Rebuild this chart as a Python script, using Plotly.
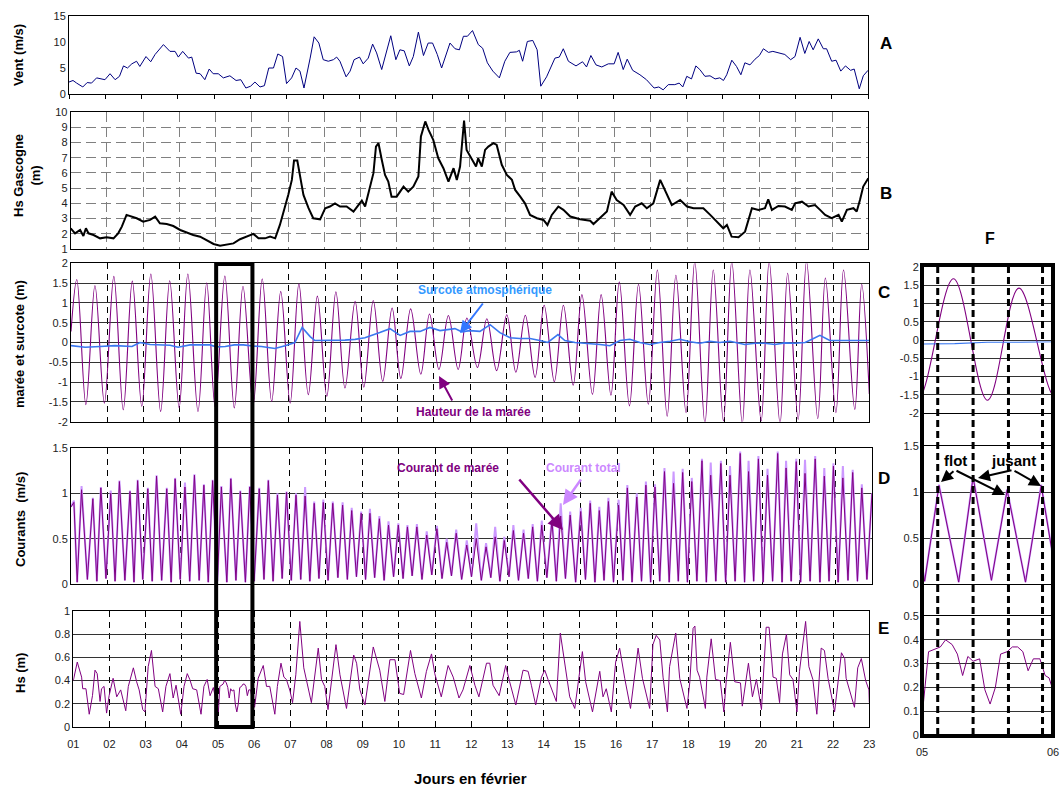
import plotly.graph_objects as go

# ------------------------------------------------------------------ data
# (day of February, value) pairs
wind_obs = [(1.00, 2.3), (1.11, 2.6), (1.21, 2.1), (1.38, 1.35), (1.50, 2.2), (1.62, 2.1), (1.76, 3.1), (1.87, 2.9),
            (1.99, 2.75), (2.13, 3.9), (2.27, 2.75), (2.39, 3.4), (2.50, 5.4), (2.61, 5.0), (2.73, 5.8), (2.86, 6.3),
            (2.95, 5.3), (3.12, 7.2), (3.25, 6.2), (3.37, 7.6), (3.60, 9.5), (3.78, 8.2), (3.92, 8.2), (4.01, 7.1),
            (4.13, 8.2), (4.29, 6.9), (4.38, 7.1), (4.50, 4.0), (4.61, 3.9), (4.74, 2.75), (4.86, 4.8), (4.97, 3.9),
            (5.11, 3.9), (5.25, 3.1), (5.43, 3.5), (5.60, 2.6), (5.73, 2.75), (5.87, 1.15), (6.00, 1.5), (6.12, 2.3),
            (6.26, 1.35), (6.38, 1.6), (6.50, 5.0), (6.63, 5.0), (6.75, 7.7), (6.88, 7.2), (6.99, 2.0), (7.13, 3.1),
            (7.25, 5.0), (7.36, 4.4), (7.47, 1.15), (7.64, 6.9), (7.75, 11.0), (7.88, 9.8), (8.00, 6.6), (8.14, 6.3),
            (8.28, 6.6), (8.37, 7.1), (8.46, 6.3), (8.63, 3.3), (8.74, 4.4), (8.85, 6.6), (9.00, 7.1), (9.10, 5.8),
            (9.24, 6.9), (9.36, 9.6), (9.47, 7.9), (9.61, 4.7), (9.75, 8.5), (9.86, 11.2), (10.00, 6.6), (10.11, 8.5),
            (10.23, 8.3), (10.37, 5.4), (10.48, 7.2), (10.62, 11.9), (10.76, 7.4), (10.89, 9.8), (11.01, 9.8),
            (11.14, 7.6), (11.26, 5.0), (11.38, 7.6), (11.49, 9.8), (11.63, 8.7), (11.75, 8.5), (11.86, 11.1),
            (11.97, 11.1), (12.11, 12.2), (12.27, 9.5), (12.39, 8.8), (12.52, 6.0), (12.67, 4.4), (12.85, 3.1),
            (13.00, 6.3), (13.14, 8.0), (13.32, 8.1), (13.40, 8.4), (13.49, 6.3), (13.62, 10.1), (13.77, 10.3),
            (13.89, 8.5), (13.99, 1.5), (14.15, 3.3), (14.38, 6.9), (14.50, 7.1), (14.61, 8.7), (14.75, 6.3),
            (14.96, 5.4), (15.14, 6.2), (15.25, 5.2), (15.37, 7.4), (15.51, 5.6), (15.67, 5.2), (15.85, 5.8),
            (16.01, 5.8), (16.12, 8.0), (16.26, 4.7), (16.37, 6.7), (16.52, 4.55), (16.72, 3.7), (16.90, 2.75),
            (17.11, 1.15), (17.24, 1.35), (17.36, 0.8), (17.50, 1.8), (17.68, 1.8), (17.80, 2.1), (17.90, 1.35),
            (18.01, 3.4), (18.14, 2.9), (18.26, 5.4), (18.37, 4.7), (18.51, 3.4), (18.65, 3.5), (18.79, 2.9),
            (18.92, 3.1), (19.02, 2.6), (19.11, 3.7), (19.25, 6.5), (19.38, 5.3), (19.50, 3.7), (19.61, 6.0),
            (19.75, 5.6), (19.89, 6.7), (20.01, 7.4), (20.12, 8.7), (20.26, 8.0), (20.38, 8.2), (20.53, 7.9),
            (20.71, 7.6), (20.87, 6.6), (20.99, 7.2), (21.13, 10.9), (21.26, 7.8), (21.38, 10.1), (21.49, 8.5),
            (21.63, 10.6), (21.77, 8.7), (21.86, 8.7), (22.00, 6.3), (22.12, 6.5), (22.25, 4.4), (22.38, 5.4),
            (22.52, 4.55), (22.62, 4.8), (22.76, 1.0), (22.87, 3.5), (23.00, 4.55)]

hs_gascogne_obs = [(1.00, 2.36), (1.12, 2.03), (1.26, 2.25), (1.35, 1.86), (1.42, 2.36), (1.49, 2.03), (1.63, 1.92),
                   (1.81, 1.70), (1.99, 1.77), (2.18, 1.70), (2.31, 2.03), (2.41, 2.47), (2.54, 3.24), (2.68, 3.13),
                   (2.82, 3.02), (3.00, 2.80), (3.19, 2.91), (3.33, 3.13), (3.46, 2.69), (3.65, 2.64), (3.83, 2.51),
                   (4.02, 2.25), (4.20, 2.07), (4.38, 1.92), (4.57, 1.81), (4.75, 1.59), (4.94, 1.33), (5.12, 1.22),
                   (5.30, 1.31), (5.49, 1.37), (5.67, 1.64), (5.86, 1.81), (6.04, 1.99), (6.18, 1.70), (6.36, 1.70),
                   (6.50, 1.81), (6.64, 1.70), (6.77, 2.58), (6.91, 3.68), (7.00, 4.55), (7.10, 5.54), (7.16, 6.81),
                   (7.25, 6.81), (7.33, 5.76), (7.42, 4.55), (7.56, 3.68), (7.69, 3.02), (7.88, 2.95), (8.02, 3.68),
                   (8.15, 3.79), (8.29, 4.00), (8.43, 3.79), (8.61, 3.79), (8.80, 3.46), (8.94, 3.89), (9.03, 4.18),
                   (9.12, 3.79), (9.26, 5.21), (9.35, 5.98), (9.42, 7.73), (9.49, 7.95), (9.58, 6.86), (9.67, 5.87),
                   (9.76, 5.43), (9.85, 4.44), (9.99, 4.44), (10.18, 5.10), (10.31, 4.77), (10.45, 5.10),
                   (10.59, 5.76), (10.66, 8.39), (10.78, 9.38), (10.87, 8.83), (11.00, 8.17), (11.14, 6.96),
                   (11.28, 6.31), (11.42, 5.43), (11.56, 6.31), (11.65, 5.54), (11.74, 6.42), (11.85, 9.44),
                   (11.92, 7.51), (12.06, 6.96), (12.18, 6.42), (12.24, 6.96), (12.34, 6.42), (12.43, 7.51),
                   (12.52, 7.73), (12.66, 7.95), (12.75, 7.84), (12.89, 6.53), (13.03, 5.87), (13.17, 5.54),
                   (13.26, 4.88), (13.40, 4.44), (13.53, 4.00), (13.67, 3.24), (13.86, 3.02), (14.04, 2.91),
                   (14.15, 2.58), (14.27, 3.24), (14.45, 3.79), (14.59, 3.57), (14.78, 3.13), (15.05, 2.95),
                   (15.33, 2.86), (15.42, 2.64), (15.60, 3.02), (15.79, 3.46), (15.92, 4.77), (16.06, 4.22),
                   (16.25, 3.89), (16.43, 3.24), (16.57, 3.79), (16.75, 4.00), (16.89, 3.68), (17.07, 4.00),
                   (17.26, 5.54), (17.40, 4.77), (17.58, 3.89), (17.81, 4.22), (18.00, 3.79), (18.18, 3.68),
                   (18.45, 3.68), (18.64, 3.24), (18.87, 2.69), (19.00, 2.36), (19.10, 2.58), (19.23, 1.81),
                   (19.42, 1.77), (19.60, 2.14), (19.79, 3.68), (19.97, 3.57), (20.15, 3.68), (20.24, 4.27),
                   (20.34, 3.57), (20.52, 3.83), (20.70, 3.79), (20.89, 3.57), (20.98, 4.00), (21.17, 4.11),
                   (21.35, 3.79), (21.53, 3.89), (21.67, 3.57), (21.81, 3.24), (21.99, 3.02), (22.18, 3.24),
                   (22.27, 2.80), (22.41, 3.57), (22.59, 3.68), (22.68, 3.46), (22.77, 4.22), (22.86, 5.10),
                   (23.00, 5.65)]

# tide: high waters, low waters and the two ends of the record (m)
tide_high = [(1.16, 1.59), (1.66, 1.44), (2.18, 1.67), (2.69, 1.55), (3.20, 1.73), (3.72, 1.56), (4.22, 1.73),
             (4.74, 1.51), (5.24, 1.68), (5.74, 1.42), (6.27, 1.61), (6.78, 1.29), (7.28, 1.48), (7.79, 1.17),
             (8.30, 1.28), (8.83, 1.04), (9.33, 1.06), (9.85, 0.87), (10.36, 0.85), (10.88, 0.72), (11.40, 0.68),
             (11.91, 0.62), (12.46, 0.60), (13.01, 0.70), (13.52, 0.69), (14.04, 0.94), (14.57, 0.94),
             (15.08, 1.21), (15.61, 1.21), (16.11, 1.53), (16.64, 1.47), (17.16, 1.83), (17.67, 1.70),
             (18.19, 2.05), (18.70, 1.83), (19.21, 2.05), (19.71, 1.83), (20.24, 2.05), (20.75, 1.75),
             (21.27, 2.05), (21.79, 1.63), (22.29, 1.83), (22.79, 1.47)]
tide_low = [(1.41, -1.57), (1.92, -1.53), (2.44, -1.70), (2.95, -1.61), (3.47, -1.74), (3.98, -1.65),
            (4.50, -1.74), (4.97, -1.62), (5.50, -1.65), (6.02, -1.58), (6.53, -1.49), (7.04, -1.53),
            (7.54, -1.32), (8.05, -1.36), (8.55, -1.15), (9.07, -1.13), (9.59, -0.98), (10.09, -0.91),
            (10.64, -0.80), (11.14, -0.68), (11.67, -0.68), (12.20, -0.63), (12.73, -0.71), (13.26, -0.75),
            (13.79, -0.88), (14.32, -0.99), (14.84, -1.08), (15.37, -1.31), (15.88, -1.33), (16.39, -1.60),
            (16.91, -1.56), (17.43, -1.86), (17.95, -1.77), (18.47, -2.05), (18.98, -1.98), (19.50, -2.05),
            (20.02, -1.98), (20.54, -2.05), (21.04, -1.94), (21.58, -1.92), (22.08, -1.77), (22.60, -1.69)]
tide_ends = [(1.00, 0.28), (23.00, -1.30)]

surge_obs = [(1.00, -0.08), (1.39, -0.12), (1.80, -0.10), (2.21, -0.08), (2.68, -0.10), (2.90, 0.00), (3.18, -0.05),
             (3.73, -0.07), (3.95, -0.12), (4.28, -0.06), (4.83, -0.06), (5.00, -0.11), (5.25, -0.10),
             (5.50, -0.06), (5.75, -0.06), (6.00, -0.09), (6.25, -0.10), (6.48, -0.12), (6.62, -0.15),
             (6.90, -0.08), (7.03, -0.05), (7.17, 0.00), (7.37, 0.38), (7.59, 0.15), (7.72, 0.05), (8.14, 0.05),
             (8.55, 0.06), (8.83, 0.08), (9.10, 0.12), (9.51, 0.25), (9.79, 0.35), (10.07, 0.18), (10.34, 0.28),
             (10.62, 0.28), (10.89, 0.38), (11.17, 0.30), (11.58, 0.35), (11.77, 0.27), (11.99, 0.30),
             (12.27, 0.28), (12.55, 0.45), (12.82, 0.25), (13.10, 0.12), (13.37, 0.10), (13.65, 0.10),
             (13.92, 0.05), (14.14, 0.00), (14.42, 0.20), (14.61, 0.05), (14.89, 0.00), (15.30, -0.02),
             (15.58, -0.05), (15.85, -0.08), (16.13, 0.05), (16.40, 0.08), (16.68, 0.00), (16.95, -0.05),
             (17.23, 0.00), (17.51, 0.03), (17.78, 0.08), (18.06, 0.02), (18.33, -0.02), (18.61, 0.03),
             (18.88, 0.00), (19.16, 0.03), (19.43, -0.03), (19.57, -0.05), (19.85, -0.02), (20.12, -0.02),
             (20.40, -0.05), (20.67, -0.01), (20.95, -0.02), (21.23, 0.00), (21.42, 0.08), (21.64, 0.18),
             (21.91, 0.05), (22.19, 0.05), (22.47, 0.06), (22.74, 0.05), (22.99, 0.05)]

# currents: (day, tidal-current peak, total-current peak) in m/s
current_peaks = [(1.08, 0.90, 0.92), (1.29, 1.04, 1.08), (1.60, 0.94, 0.95), (1.82, 1.06, 1.07), (2.09, 1.00, 1.03),
                 (2.33, 1.13, 1.14), (2.62, 1.02, 1.03), (2.83, 1.14, 1.15), (3.11, 1.05, 1.06), (3.35, 1.19, 1.20),
                 (3.63, 1.05, 1.06), (3.86, 1.16, 1.17), (4.13, 1.07, 1.12), (4.39, 1.20, 1.21), (4.65, 1.09, 1.10),
                 (4.89, 1.14, 1.15), (5.13, 1.07, 1.08), (5.39, 1.16, 1.17), (5.65, 1.02, 1.03), (5.91, 1.07, 1.08),
                 (6.17, 1.05, 1.06), (6.42, 1.14, 1.15), (6.67, 0.98, 1.00), (6.92, 1.01, 1.02), (7.18, 0.98, 1.00),
                 (7.43, 0.97, 1.07), (7.68, 0.89, 0.91), (7.93, 0.90, 0.93), (8.19, 0.89, 0.91), (8.46, 0.87, 0.90),
                 (8.71, 0.81, 0.84), (8.97, 0.78, 0.80), (9.21, 0.78, 0.83), (9.47, 0.72, 0.75), (9.72, 0.65, 0.69),
                 (9.99, 0.65, 0.67), (10.24, 0.63, 0.65), (10.50, 0.63, 0.66), (10.77, 0.54, 0.58), (11.05, 0.61, 0.64),
                 (11.32, 0.46, 0.50), (11.58, 0.56, 0.60), (11.87, 0.43, 0.48), (12.13, 0.50, 0.67), (12.40, 0.41, 0.45),
                 (12.65, 0.52, 0.63), (12.90, 0.48, 0.52), (13.15, 0.59, 0.65), (13.43, 0.56, 0.60), (13.68, 0.63, 0.66),
                 (13.93, 0.65, 0.70), (14.21, 0.70, 0.74), (14.45, 0.75, 0.89), (14.71, 0.76, 0.80), (15.00, 0.80, 0.84),
                 (15.26, 0.89, 0.92), (15.51, 0.81, 0.85), (15.76, 0.91, 0.95), (16.04, 0.87, 0.93), (16.28, 1.06, 1.09),
                 (16.54, 0.96, 1.00), (16.79, 1.09, 1.13), (17.04, 1.07, 1.10), (17.30, 1.24, 1.28), (17.55, 1.11, 1.24),
                 (17.80, 1.23, 1.27), (18.05, 1.13, 1.17), (18.33, 1.36, 1.38), (18.57, 1.20, 1.34), (18.85, 1.33, 1.36),
                 (19.10, 1.20, 1.30), (19.38, 1.44, 1.46), (19.61, 1.24, 1.36), (19.88, 1.38, 1.41), (20.13, 1.20, 1.27),
                 (20.41, 1.44, 1.46), (20.64, 1.28, 1.36), (20.92, 1.35, 1.38), (21.16, 1.22, 1.37), (21.44, 1.38, 1.41),
                 (21.69, 1.19, 1.28), (21.94, 1.30, 1.33), (22.20, 1.17, 1.30), (22.47, 1.23, 1.26), (22.72, 1.06, 1.10)]
current_slack = [(1.17, 0.02), (1.45, 0.05), (1.71, 0.03), (1.96, 0.06), (2.21, 0.03), (2.48, 0.04), (2.73, 0.02),
                 (2.97, 0.05), (3.23, 0.03), (3.49, 0.04), (3.75, 0.02), (4.00, 0.05), (4.26, 0.03), (4.52, 0.04),
                 (4.77, 0.02), (5.02, 0.03), (5.28, 0.02), (5.53, 0.04), (5.79, 0.02), (6.03, 0.03), (6.30, 0.05),
                 (6.55, 0.03), (6.80, 0.06), (7.05, 0.04), (7.31, 0.05), (7.56, 0.03), (7.81, 0.06), (8.06, 0.04),
                 (8.33, 0.07), (8.59, 0.05), (8.84, 0.08), (9.09, 0.05), (9.34, 0.07), (9.60, 0.04), (9.86, 0.08),
                 (10.12, 0.06), (10.37, 0.09), (10.64, 0.05), (10.91, 0.10), (11.19, 0.06), (11.45, 0.09),
                 (11.73, 0.05), (12.00, 0.08), (12.27, 0.04), (12.53, 0.07), (12.78, 0.03), (13.03, 0.08),
                 (13.29, 0.04), (13.56, 0.06), (13.81, 0.03), (14.07, 0.07), (14.33, 0.03), (14.58, 0.06),
                 (14.86, 0.02), (15.13, 0.05), (15.39, 0.02), (15.64, 0.04), (15.90, 0.02), (16.16, 0.04),
                 (16.41, 0.02), (16.67, 0.03), (16.92, 0.02), (17.17, 0.03), (17.43, 0.02), (17.68, 0.03),
                 (17.93, 0.02), (18.19, 0.03), (18.45, 0.02), (18.71, 0.03), (18.98, 0.02), (19.24, 0.03),
                 (19.50, 0.02), (19.75, 0.03), (20.01, 0.02), (20.27, 0.03), (20.53, 0.02), (20.78, 0.03),
                 (21.04, 0.02), (21.30, 0.03), (21.57, 0.02), (21.82, 0.03), (22.07, 0.02), (22.34, 0.04),
                 (22.60, 0.03), (22.86, 0.05)]
current_ends = [(1.00, 0.85), (23.00, 1.00)]

hs_local_obs = [(1.00, 0.40), (1.11, 0.56), (1.23, 0.43), (1.26, 0.33), (1.35, 0.33), (1.44, 0.11), (1.53, 0.27),
                (1.60, 0.49), (1.66, 0.46), (1.74, 0.22), (1.78, 0.33), (1.85, 0.35), (1.92, 0.12), (1.99, 0.27),
                (2.10, 0.42), (2.20, 0.26), (2.31, 0.32), (2.45, 0.14), (2.52, 0.35), (2.66, 0.51), (2.75, 0.39),
                (2.82, 0.32), (2.92, 0.15), (2.98, 0.13), (3.07, 0.52), (3.16, 0.66), (3.26, 0.35), (3.35, 0.33),
                (3.47, 0.13), (3.56, 0.35), (3.67, 0.46), (3.76, 0.25), (3.84, 0.36), (3.97, 0.11), (4.06, 0.35),
                (4.15, 0.46), (4.22, 0.41), (4.30, 0.33), (4.41, 0.32), (4.53, 0.11), (4.61, 0.35), (4.70, 0.41),
                (4.78, 0.27), (4.87, 0.34), (5.01, 0.13), (5.05, 0.35), (5.14, 0.37), (5.18, 0.40), (5.23, 0.38),
                (5.27, 0.34), (5.31, 0.25), (5.35, 0.33), (5.39, 0.31), (5.44, 0.32), (5.48, 0.19), (5.52, 0.13),
                (5.56, 0.20), (5.60, 0.34), (5.65, 0.35), (5.69, 0.37), (5.73, 0.37), (5.77, 0.35), (5.81, 0.27),
                (5.85, 0.32), (5.90, 0.32), (5.94, 0.25), (5.97, 0.24), (6.01, 0.17), (6.11, 0.42), (6.25, 0.53),
                (6.34, 0.35), (6.43, 0.35), (6.57, 0.11), (6.64, 0.35), (6.74, 0.55), (6.82, 0.43), (6.89, 0.41),
                (6.99, 0.31), (7.06, 0.21), (7.15, 0.45), (7.26, 0.91), (7.37, 0.51), (7.58, 0.21), (7.77, 0.68),
                (7.86, 0.41), (7.95, 0.35), (8.04, 0.15), (8.26, 0.71), (8.37, 0.45), (8.55, 0.16), (8.75, 0.62),
                (8.83, 0.55), (8.92, 0.32), (9.06, 0.19), (9.29, 0.69), (9.47, 0.49), (9.61, 0.22), (9.75, 0.58),
                (9.89, 0.58), (10.02, 0.29), (10.13, 0.28), (10.32, 0.66), (10.44, 0.46), (10.62, 0.25),
                (10.76, 0.48), (10.90, 0.63), (10.99, 0.46), (11.17, 0.26), (11.36, 0.53), (11.50, 0.43),
                (11.66, 0.25), (11.77, 0.32), (11.96, 0.53), (12.10, 0.36), (12.21, 0.26), (12.42, 0.55),
                (12.51, 0.55), (12.60, 0.36), (12.77, 0.27), (12.95, 0.53), (13.06, 0.39), (13.23, 0.19),
                (13.43, 0.49), (13.57, 0.48), (13.66, 0.36), (13.78, 0.19), (13.94, 0.43), (14.03, 0.49),
                (14.12, 0.41), (14.35, 0.22), (14.46, 0.81), (14.58, 0.56), (14.72, 0.26), (14.86, 0.16),
                (14.95, 0.36), (15.07, 0.65), (15.16, 0.39), (15.35, 0.13), (15.55, 0.48), (15.64, 0.26),
                (15.73, 0.33), (15.87, 0.13), (15.99, 0.56), (16.10, 0.68), (16.24, 0.42), (16.40, 0.16),
                (16.61, 0.68), (16.73, 0.42), (16.93, 0.16), (17.02, 0.71), (17.11, 0.79), (17.21, 0.75),
                (17.30, 0.43), (17.42, 0.13), (17.48, 0.52), (17.65, 0.81), (17.76, 0.42), (17.96, 0.16),
                (18.04, 0.39), (18.13, 0.85), (18.18, 0.87), (18.24, 0.49), (18.31, 0.43), (18.47, 0.16),
                (18.51, 0.43), (18.63, 0.76), (18.75, 0.41), (18.88, 0.40), (18.98, 0.13), (19.05, 0.41),
                (19.16, 0.73), (19.28, 0.39), (19.44, 0.38), (19.49, 0.18), (19.66, 0.55), (19.77, 0.26),
                (19.88, 0.41), (20.02, 0.15), (20.15, 0.86), (20.23, 0.86), (20.34, 0.43), (20.43, 0.42),
                (20.52, 0.21), (20.60, 0.63), (20.71, 0.80), (20.80, 0.45), (20.89, 0.41), (21.00, 0.13),
                (21.07, 0.48), (21.24, 0.91), (21.33, 0.52), (21.44, 0.41), (21.55, 0.11), (21.67, 0.68),
                (21.76, 0.66), (21.86, 0.42), (22.04, 0.13), (22.23, 0.64), (22.32, 0.59), (22.36, 0.42),
                (22.59, 0.17), (22.68, 0.51), (22.78, 0.59), (22.90, 0.40), (22.99, 0.32), (23.00, 0.21)]

day_ticks = list(range(1, 24))
day_labels = ['01', '02', '03', '04', '05', '06', '07', '08', '09', '10', '11', '12',
              '13', '14', '15', '16', '17', '18', '19', '20', '21', '22', '23']
tide_ticks = [-2, -1.5, -1, -0.5, 0, 0.5, 1, 1.5, 2]
tide_tick_text = ['-2', '-1.5', '-1', '-0.5', '0', '0.5', '1', '1.5', '2']
zoom_window = [5, 6]               # day shown in panel F
zoom_labels = ['05', '06']
flow_ebb_days = [5.12, 5.39, 5.66, 5.92]   # current maxima marked in panel F

# ------------------------------------------------------------------ helpers
W, H = 1062, 789
FONT = 'Liberation Sans, Arial, sans-serif'
PURPLE = '#800080'
LIGHT = '#cc99ff'


def cols(pairs):
    return [p[0] for p in pairs], [p[1] for p in pairs]


def dx(a, b):
    return [a / W, b / W]


def dy(top, bottom):
    return [1 - bottom / H, 1 - top / H]


wind_x, wind_y = cols(wind_obs)
hsg_x, hsg_y = cols(hs_gascogne_obs)
tide_x, tide_y = cols(sorted(tide_high + tide_low + tide_ends))
surge_x, surge_y = cols(surge_obs)
cur_pts = sorted([(d, v) for d, v, _ in current_peaks] + current_slack + current_ends)
tot_pts = sorted([(d, t) for d, _, t in current_peaks] + current_slack + current_ends)
cur_x, cur_y = cols(cur_pts)
tot_x, tot_y = cols(tot_pts)
hs_x, hs_y = cols(hs_local_obs)

fig = go.Figure()


def line(x, y, xa, ya, color, width, shape='linear'):
    fig.add_trace(go.Scatter(x=x, y=y, mode='lines', xaxis=xa, yaxis=ya, hoverinfo='skip',
                             line=dict(color=color, width=width, shape=shape, smoothing=1.0)))


line(wind_x, wind_y, 'x', 'y', '#000080', 1)
line(hsg_x, hsg_y, 'x2', 'y2', 'black', 2)
line(tide_x, tide_y, 'x3', 'y3', PURPLE, 1.1, 'spline')
line(surge_x, surge_y, 'x3', 'y3', '#3a78f0', 1.6)
line(tot_x, tot_y, 'x4', 'y4', LIGHT, 2)
line(cur_x, cur_y, 'x4', 'y4', PURPLE, 1)
line(hs_x, hs_y, 'x5', 'y5', PURPLE, 1)
line(tide_x, tide_y, 'x6', 'y6', PURPLE, 1.1, 'spline')
line(surge_x, surge_y, 'x6', 'y6', '#3a78f0', 1.1)
line(tot_x, tot_y, 'x7', 'y7', LIGHT, 2)
line(cur_x, cur_y, 'x7', 'y7', PURPLE, 1)
line(hs_x, hs_y, 'x8', 'y8', PURPLE, 1)

tickfont = dict(family=FONT, size=11, color='#222')
base = dict(showline=True, linecolor='black', linewidth=1, mirror=True, zeroline=False,
            tickfont=tickfont, ticks='', fixedrange=True, automargin=False)
vgrid_dash = dict(showgrid=True, gridcolor='black', gridwidth=1, griddash='6px,5px')
hgrid_solid = dict(showgrid=True, gridcolor='#333333', gridwidth=1)


def main_x(domain, anchor, **kw):
    d = dict(base, domain=domain, anchor=anchor, range=[1, 23], tickvals=day_ticks,
             ticktext=day_labels, showticklabels=False, showgrid=False)
    d.update(kw)
    return d


layout = dict(
    width=W, height=H, margin=dict(l=0, r=0, t=0, b=0, autoexpand=False),
    paper_bgcolor='white', plot_bgcolor='white', showlegend=False,
    font=dict(family=FONT, color='black'),
    xaxis=main_x(dx(69, 868), 'y', ticks='outside', ticklen=4, tickcolor='black'),
    yaxis=dict(base, domain=dy(16, 94), anchor='x', range=[0, 15], tickvals=[0, 5, 10, 15], showgrid=False),
    xaxis2=main_x(dx(70.7, 868.3), 'y2', showgrid=True, gridcolor='#808080', griddash='10px,5px'),
    yaxis2=dict(base, domain=dy(112, 249), anchor='x2', range=[1, 10], dtick=1, showgrid=True,
                gridcolor='#808080', griddash='10px,5px'),
    xaxis3=main_x(dx(71, 869.3), 'y3', **vgrid_dash),
    yaxis3=dict(base, domain=dy(263.3, 421.7), anchor='x3', range=[-2, 2], tickvals=tide_ticks,
                ticktext=tide_tick_text, **hgrid_solid),
    xaxis4=main_x(dx(71, 872), 'y4', **vgrid_dash),
    yaxis4=dict(base, domain=dy(448, 584), anchor='x4', range=[0, 1.5], dtick=0.5, **hgrid_solid),
    xaxis5=main_x(dx(73.3, 869.3), 'y5', showticklabels=True, ticklabelstandoff=7, **vgrid_dash),
    yaxis5=dict(base, domain=dy(611, 727), anchor='x5', range=[0, 1], dtick=0.2, **hgrid_solid),
    xaxis6=dict(base, domain=dx(922, 1053), anchor='y6', range=zoom_window, showticklabels=False, showgrid=False),
    yaxis6=dict(base, domain=dy(267, 413), anchor='x6', range=[-2, 2], tickvals=tide_ticks,
                ticktext=tide_tick_text, **hgrid_solid),
    xaxis7=dict(base, domain=dx(922, 1053), anchor='y7', range=zoom_window, showticklabels=False, showgrid=False),
    yaxis7=dict(base, domain=dy(446, 584), anchor='x7', range=[0, 1.5], dtick=0.5, **hgrid_solid),
    xaxis8=dict(base, domain=dx(922, 1053), anchor='y8', range=zoom_window, tickvals=zoom_window,
                ticktext=zoom_labels, showgrid=False, ticklabelstandoff=7),
    yaxis8=dict(base, domain=dy(616, 735), anchor='x8', range=[0, 0.5], dtick=0.1, **hgrid_solid),
)

shapes = [
    # zoom window on the main panels
    dict(type='rect', xref='x3', yref='paper', x0=zoom_window[0], x1=zoom_window[1],
         y0=1 - 727 / H, y1=1 - 264 / H, line=dict(color='black', width=4), layer='above'),
    # frame round panel F
    dict(type='rect', xref='paper', yref='paper', x0=922 / W, x1=1053 / W, y0=1 - 736 / H, y1=1 - 265 / H,
         line=dict(color='black', width=4), layer='above'),
]
for d in flow_ebb_days:
    shapes.append(dict(type='line', xref='x6', yref='paper', x0=d, x1=d, y0=1 - 735 / H, y1=1 - 267 / H,
                       line=dict(color='black', width=3, dash='7px,4px'), layer='above'))
layout['shapes'] = shapes


def ann(text, x, y, size=13, color='black', angle=0, **kw):
    a = dict(text=text, x=x / W, y=1 - y / H, xref='paper', yref='paper', showarrow=False,
             font=dict(family=FONT, size=size, color=color), textangle=angle, xanchor='center', yanchor='middle')
    a.update(kw)
    return a


def arrow(x, y, tx, ty, color='black', width=1.5, head=2):
    return dict(text='', x=x / W, y=1 - y / H, xref='paper', yref='paper', showarrow=True,
                ax=tx - x, ay=ty - y, arrowcolor=color, arrowwidth=width, arrowhead=head, arrowsize=1.2)


annotations = [
    ann('<b>Vent (m/s)</b>', 19, 55, angle=-90),
    ann('<b>Hs Gascogne<br>(m)</b>', 27, 176, angle=-90),
    ann('<b>marée et surcote (m)</b>', 19, 344, angle=-90),
    ann('<b>Courants  (m/s)</b>', 20, 520, angle=-90),
    ann('<b>Hs (m)</b>', 20, 673, angle=-90),
    ann('<b>A</b>', 886, 43, size=17),
    ann('<b>B</b>', 886, 193, size=17),
    ann('<b>C</b>', 884, 292, size=17),
    ann('<b>D</b>', 884, 478, size=17),
    ann('<b>E</b>', 883, 628, size=17),
    ann('<b>F</b>', 990, 238, size=16),
    ann('<b>Jours en février</b>', 470, 778, size=15),
    ann('<b>Surcote atmosphérique</b>', 485, 290, size=12, color='#3399ff'),
    arrow(460, 333, 484, 302, color='#3377ff', width=2),
    ann('<b>Hauteur de la marée</b>', 473, 412, size=12, color=PURPLE),
    arrow(439, 376, 453, 402, color=PURPLE, width=2),
    ann('<b>Courant de marée</b>', 448, 468, size=12, color=PURPLE),
    arrow(563, 530, 518, 478, color=PURPLE, width=2.5),
    ann('<b>Courant total</b>', 583, 468, size=12, color='#cc88ff'),
    arrow(563, 505, 582, 478, color='#cc88ff', width=2.5),
    ann('<b>flot</b>', 955, 461, size=15),
    ann('<b>jusant</b>', 1013, 461, size=15),
    arrow(941, 482, 955, 470, width=2),
    arrow(1005, 495, 955, 470, width=2),
    arrow(978, 478, 1013, 470, width=2),
    arrow(1041, 486, 1013, 470, width=2),
]
layout['annotations'] = annotations

fig.update_layout(**layout)
fig.write_html('out.html', config={'displayModeBar': False},
               post_script="document.body.style.margin='0';document.body.style.overflow='hidden';")
